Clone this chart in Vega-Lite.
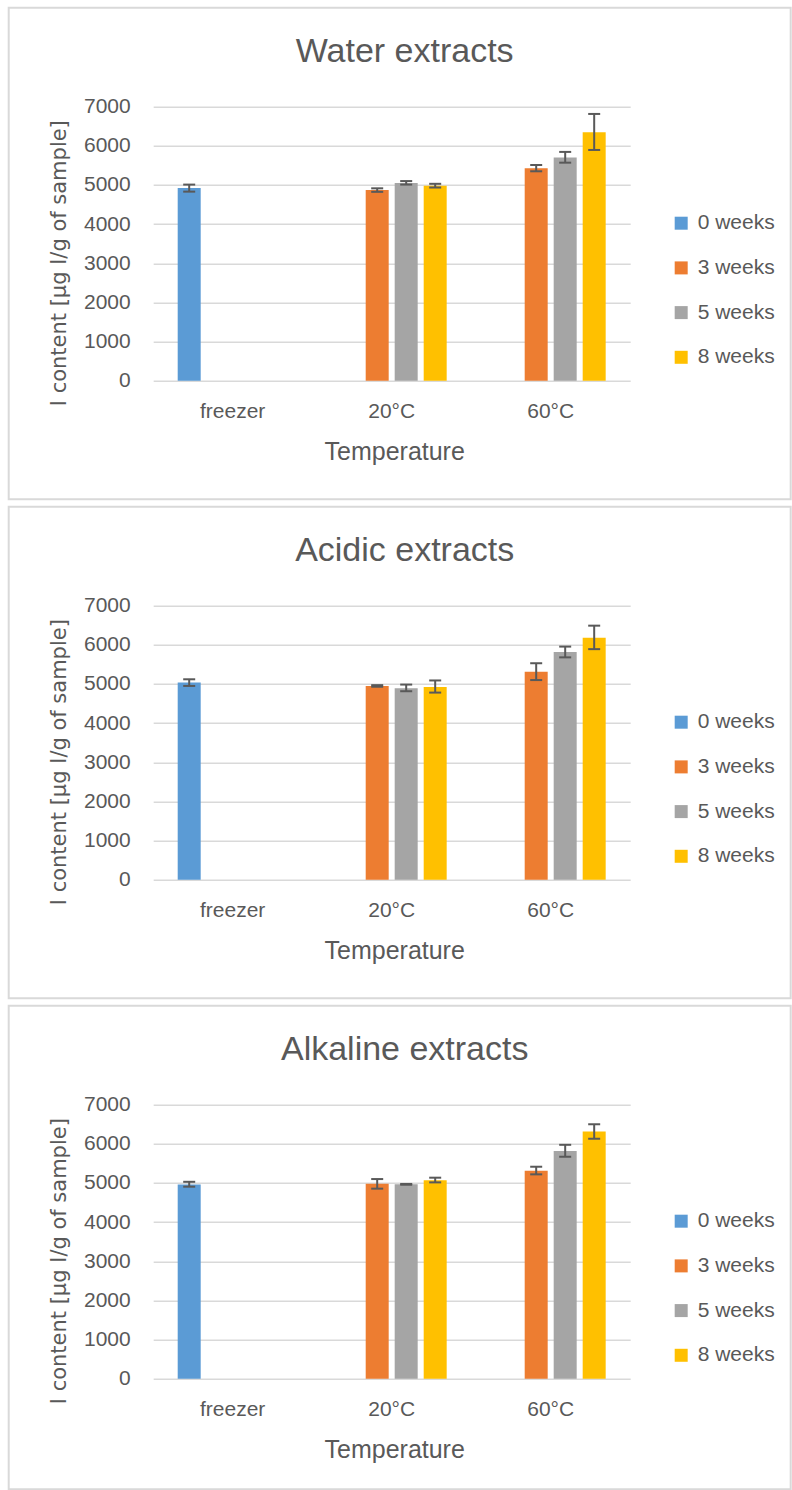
{
  "$schema": "https://vega.github.io/schema/vega-lite/v6.json",
  "padding": {"left": 7.7, "top": 6.7, "right": 0, "bottom": 0},
  "background": "white",
  "datasets": {
    "water": [
      {"temperature": "freezer", "weeks": "0 weeks", "value": 4920, "lo": 4830, "hi": 5010},
      {"temperature": "20°C", "weeks": "3 weeks", "value": 4870, "lo": 4825, "hi": 4915},
      {"temperature": "20°C", "weeks": "5 weeks", "value": 5050, "lo": 5010, "hi": 5100},
      {"temperature": "20°C", "weeks": "8 weeks", "value": 4980, "lo": 4935, "hi": 5030},
      {"temperature": "60°C", "weeks": "3 weeks", "value": 5430, "lo": 5350, "hi": 5510},
      {"temperature": "60°C", "weeks": "5 weeks", "value": 5700, "lo": 5570, "hi": 5845},
      {"temperature": "60°C", "weeks": "8 weeks", "value": 6350, "lo": 5895, "hi": 6815}
    ],
    "acidic": [
      {"temperature": "freezer", "weeks": "0 weeks", "value": 5040, "lo": 4950, "hi": 5120},
      {"temperature": "20°C", "weeks": "3 weeks", "value": 4950, "lo": 4930, "hi": 4970},
      {"temperature": "20°C", "weeks": "5 weeks", "value": 4890, "lo": 4815, "hi": 4985},
      {"temperature": "20°C", "weeks": "8 weeks", "value": 4925, "lo": 4780, "hi": 5090},
      {"temperature": "60°C", "weeks": "3 weeks", "value": 5315, "lo": 5100, "hi": 5530},
      {"temperature": "60°C", "weeks": "5 weeks", "value": 5820, "lo": 5680, "hi": 5955},
      {"temperature": "60°C", "weeks": "8 weeks", "value": 6180, "lo": 5890, "hi": 6490}
    ],
    "alkaline": [
      {"temperature": "freezer", "weeks": "0 weeks", "value": 4960, "lo": 4905, "hi": 5030},
      {"temperature": "20°C", "weeks": "3 weeks", "value": 4980, "lo": 4855, "hi": 5100},
      {"temperature": "20°C", "weeks": "5 weeks", "value": 4965, "lo": 4955, "hi": 4975},
      {"temperature": "20°C", "weeks": "8 weeks", "value": 5070, "lo": 5015, "hi": 5135},
      {"temperature": "60°C", "weeks": "3 weeks", "value": 5310, "lo": 5220, "hi": 5415},
      {"temperature": "60°C", "weeks": "5 weeks", "value": 5820, "lo": 5670, "hi": 5975},
      {"temperature": "60°C", "weeks": "8 weeks", "value": 6315, "lo": 6130, "hi": 6500}
    ]
  },
  "spacing": 5,
  "vconcat": [
    {
      "width": 782, "height": 491.5,
      "title": {"text": "Water extracts"},
      "data": {"name": "water"},
      "encoding": {
        "x": {"field": "temperature", "type": "nominal", "title": "Temperature",
          "scale": {"domain": ["freezer", "20°C", "60°C"], "range": [144.5, 621.5], "paddingInner": 0, "paddingOuter": 0},
          "axis": {"offset": -118.5}},
        "xOffset": {"field": "weeks", "type": "nominal",
          "scale": {"domain": ["0 weeks", "3 weeks", "5 weeks", "8 weeks"], "paddingInner": 0.207, "paddingOuter": 0.845}}
      },
      "layer": [
        {"mark": {"type": "bar"},
         "encoding": {
           "y": {"field": "value", "type": "quantitative", "title": "I content [µg I/g of sample]",
             "scale": {"domain": [0, 7000], "range": [373, 99], "nice": false},
             "axis": {"values": [0, 1000, 2000, 3000, 4000, 5000, 6000, 7000], "format": "d"}},
           "color": {"field": "weeks", "type": "nominal",
             "scale": {"domain": ["0 weeks", "3 weeks", "5 weeks", "8 weeks"], "range": ["#5B9BD5", "#ED7D31", "#A5A5A5", "#FFC000"]},
             "legend": {"orient": "none", "legendX": 662, "legendY": 205, "title": null}}
         }},
        {"mark": {"type": "rule", "color": "#595959", "strokeWidth": 2},
         "encoding": {"y": {"field": "lo", "type": "quantitative", "title": "I content [µg I/g of sample]"}, "y2": {"field": "hi"}}},
        {"mark": {"type": "tick", "orient": "horizontal", "color": "#595959", "size": 12, "thickness": 2, "opacity": 1},
         "encoding": {"y": {"field": "lo", "type": "quantitative", "title": "I content [µg I/g of sample]"}}},
        {"mark": {"type": "tick", "orient": "horizontal", "color": "#595959", "size": 12, "thickness": 2, "opacity": 1},
         "encoding": {"y": {"field": "hi", "type": "quantitative", "title": "I content [µg I/g of sample]"}}}
      ]
    },
    {
      "width": 782, "height": 491.5,
      "title": {"text": "Acidic extracts"},
      "data": {"name": "acidic"},
      "encoding": {
        "x": {"field": "temperature", "type": "nominal", "title": "Temperature",
          "scale": {"domain": ["freezer", "20°C", "60°C"], "range": [144.5, 621.5], "paddingInner": 0, "paddingOuter": 0},
          "axis": {"offset": -118.5}},
        "xOffset": {"field": "weeks", "type": "nominal",
          "scale": {"domain": ["0 weeks", "3 weeks", "5 weeks", "8 weeks"], "paddingInner": 0.207, "paddingOuter": 0.845}}
      },
      "layer": [
        {"mark": {"type": "bar"},
         "encoding": {
           "y": {"field": "value", "type": "quantitative", "title": "I content [µg I/g of sample]",
             "scale": {"domain": [0, 7000], "range": [373, 99], "nice": false},
             "axis": {"values": [0, 1000, 2000, 3000, 4000, 5000, 6000, 7000], "format": "d"}},
           "color": {"field": "weeks", "type": "nominal",
             "scale": {"domain": ["0 weeks", "3 weeks", "5 weeks", "8 weeks"], "range": ["#5B9BD5", "#ED7D31", "#A5A5A5", "#FFC000"]},
             "legend": {"orient": "none", "legendX": 662, "legendY": 205, "title": null}}
         }},
        {"mark": {"type": "rule", "color": "#595959", "strokeWidth": 2},
         "encoding": {"y": {"field": "lo", "type": "quantitative", "title": "I content [µg I/g of sample]"}, "y2": {"field": "hi"}}},
        {"mark": {"type": "tick", "orient": "horizontal", "color": "#595959", "size": 12, "thickness": 2, "opacity": 1},
         "encoding": {"y": {"field": "lo", "type": "quantitative", "title": "I content [µg I/g of sample]"}}},
        {"mark": {"type": "tick", "orient": "horizontal", "color": "#595959", "size": 12, "thickness": 2, "opacity": 1},
         "encoding": {"y": {"field": "hi", "type": "quantitative", "title": "I content [µg I/g of sample]"}}}
      ]
    },
    {
      "width": 782, "height": 483.5,
      "title": {"text": "Alkaline extracts"},
      "data": {"name": "alkaline"},
      "encoding": {
        "x": {"field": "temperature", "type": "nominal", "title": "Temperature",
          "scale": {"domain": ["freezer", "20°C", "60°C"], "range": [144.5, 621.5], "paddingInner": 0, "paddingOuter": 0},
          "axis": {"offset": -110.5}},
        "xOffset": {"field": "weeks", "type": "nominal",
          "scale": {"domain": ["0 weeks", "3 weeks", "5 weeks", "8 weeks"], "paddingInner": 0.207, "paddingOuter": 0.845}}
      },
      "layer": [
        {"mark": {"type": "bar"},
         "encoding": {
           "y": {"field": "value", "type": "quantitative", "title": "I content [µg I/g of sample]",
             "scale": {"domain": [0, 7000], "range": [373, 99], "nice": false},
             "axis": {"values": [0, 1000, 2000, 3000, 4000, 5000, 6000, 7000], "format": "d"}},
           "color": {"field": "weeks", "type": "nominal",
             "scale": {"domain": ["0 weeks", "3 weeks", "5 weeks", "8 weeks"], "range": ["#5B9BD5", "#ED7D31", "#A5A5A5", "#FFC000"]},
             "legend": {"orient": "none", "legendX": 662, "legendY": 205, "title": null}}
         }},
        {"mark": {"type": "rule", "color": "#595959", "strokeWidth": 2},
         "encoding": {"y": {"field": "lo", "type": "quantitative", "title": "I content [µg I/g of sample]"}, "y2": {"field": "hi"}}},
        {"mark": {"type": "tick", "orient": "horizontal", "color": "#595959", "size": 12, "thickness": 2, "opacity": 1},
         "encoding": {"y": {"field": "lo", "type": "quantitative", "title": "I content [µg I/g of sample]"}}},
        {"mark": {"type": "tick", "orient": "horizontal", "color": "#595959", "size": 12, "thickness": 2, "opacity": 1},
         "encoding": {"y": {"field": "hi", "type": "quantitative", "title": "I content [µg I/g of sample]"}}}
      ]
    }
  ],
  "resolve": {"scale": {"color": "independent", "x": "independent", "y": "independent", "xOffset": "independent"}},
  "config": {
    "font": "Liberation Sans",
    "view": {"stroke": "#d9d9d9", "strokeWidth": 2},
    "title": {"fontSize": 34, "color": "#595959", "fontWeight": "normal", "font": "Liberation Sans", "anchor": "middle", "frame": "group", "baseline": "alphabetic", "offset": 0, "dy": 65, "dx": 5},
    "axis": {"labelFont": "Liberation Sans", "labelFontSize": 21, "labelColor": "#595959", "titleFont": "Liberation Sans", "titleFontSize": 25, "titleFontWeight": "normal", "titleColor": "#595959", "domain": false, "ticks": false, "tickSize": 0},
    "axisX": {"grid": false, "labelAngle": 0, "labelPadding": 37, "labelBaseline": "alphabetic", "titleX": 385.5, "titleY": 79, "titleBaseline": "alphabetic", "titleAnchor": "middle", "titleAlign": "center"},
    "axisY": {"grid": true, "gridColor": "#d9d9d9", "gridWidth": 1.5, "offset": 0, "labelPadding": -121.5, "titleX": 51.3, "titleY": 255, "titleAngle": -90, "titleAlign": "center", "titleBaseline": "middle", "titleFont": "DejaVu Sans", "titleFontSize": 21},
    "legend": {"symbolType": "square", "symbolSize": 169, "symbolStrokeWidth": 0, "labelFont": "Liberation Sans", "labelFontSize": 21, "labelColor": "#595959", "labelOffset": 6, "rowPadding": 22.7, "padding": 0, "direction": "vertical"}
  }
}
